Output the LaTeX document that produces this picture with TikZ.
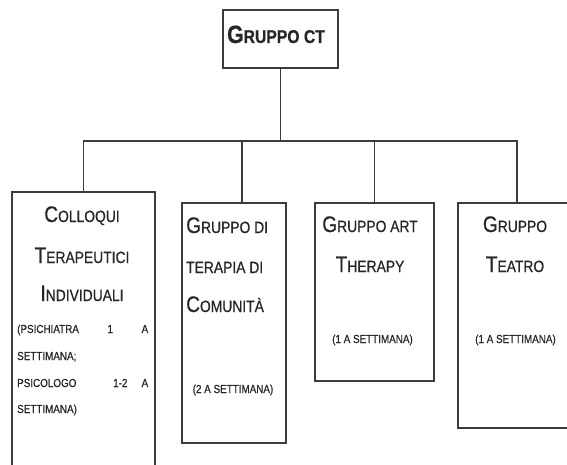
\documentclass[tikz,border=0pt]{standalone}
\usepackage{fontspec}
\setmainfont{Liberation Sans}[FakeStretch=0.85, FakeBold=0.6]
\definecolor{txt}{HTML}{262626}
\definecolor{ln}{HTML}{3C3C3C}
\newcommand\Bg[1]{{\fontsize{22.5}{22.5}\selectfont #1}}
\newcommand\BgB[1]{{\fontsize{25}{25}\selectfont #1}}
\begin{document}
\begin{tikzpicture}[x=1pt,y=-1pt,
  box/.style={draw=ln, line width=1.6pt, fill=white, inner sep=0pt, anchor=north west},
  ttl/.style={font=\fontsize{16.3}{16.3}\selectfont, text=txt, inner sep=0pt, anchor=base},
  ttll/.style={ttl, anchor=base west},
  sml/.style={font=\fontsize{11.6}{11.6}\selectfont, text=txt, inner sep=0pt, anchor=base},
  smll/.style={sml, anchor=base west},
  conn/.style={draw=ln, line width=1.4pt}]
\useasboundingbox (0,0) rectangle (567,465);
\clip (0,0) rectangle (567,465);
\fill[white] (0,0) rectangle (567,465);
% boxes
\node[box, minimum width=115pt, minimum height=58pt] (top) at (222,9) {};
\node[box, minimum width=143pt, minimum height=290pt] (b1) at (11,191) {};
\node[box, minimum width=104pt, minimum height=240pt] (b2) at (181,202) {};
\node[box, minimum width=119pt, minimum height=178pt] (b3) at (314,202) {};
\node[box, minimum width=118pt, minimum height=225pt] (b4) at (457,202) {};
% connectors
\coordinate (bus) at (0,141);
\coordinate (d2) at (242,202);
\draw[conn] (top.south) -- (top.south |- bus) -| (b1.north);
\draw[conn] (top.south) -- (top.south |- bus) -| (d2);
\draw[conn] (top.south) -- (top.south |- bus) -| (b3.north);
\draw[conn] (top.south) -- (top.south |- bus) -| (b4.north);
% top text
\node[font=\bfseries\fontsize{18.5}{18.5}\selectfont, text=txt, inner sep=0pt, anchor=base] (ttop) at (276,43) {\BgB{G}RUPPO CT};
% box 1
\node[ttl] (t11) at (82,222) {\Bg{C}OLLOQUI};
\node[ttl] (t12) at (82,263) {\Bg{T}ERAPEUTICI};
\node[ttl] (t13) at (82,301) {\Bg{I}NDIVIDUALI};
\node[smll] (s11) at (17,333) {\makebox[131pt][l]{(PSICHIATRA\hfill 1\hfill A}};
\node[smll] (s12) at (17,360) {SETTIMANA;};
\node[smll] (s13) at (17,387) {\makebox[131pt][l]{\makebox[96pt][l]{PSICOLOGO}1-2\hfill A}};
\node[smll] (s14) at (17,413) {SETTIMANA)};
% box 2
\node[ttll] (t21) at (186,233) {\Bg{G}RUPPO DI};
\node[ttll] (t22) at (186,273) {TERAPIA DI};
\node[ttll] (t23) at (186,312) {\Bg{C}OMUNITÀ};
\node[sml] (s21) at (233,393) {(2 A SETTIMANA)};
% box 3
\node[ttl] (t31) at (370,232) {\Bg{G}RUPPO ART};
\node[ttl] (t32) at (370,272) {\Bg{T}HERAPY};
\node[sml] (s31) at (372.5,343) {(1 A SETTIMANA)};
% box 4
\node[ttl] (t41) at (515,232) {\Bg{G}RUPPO};
\node[ttl] (t42) at (515,272) {\Bg{T}EATRO};
\node[sml] (s41) at (515.5,343) {(1 A SETTIMANA)};
\end{tikzpicture}
\end{document}
